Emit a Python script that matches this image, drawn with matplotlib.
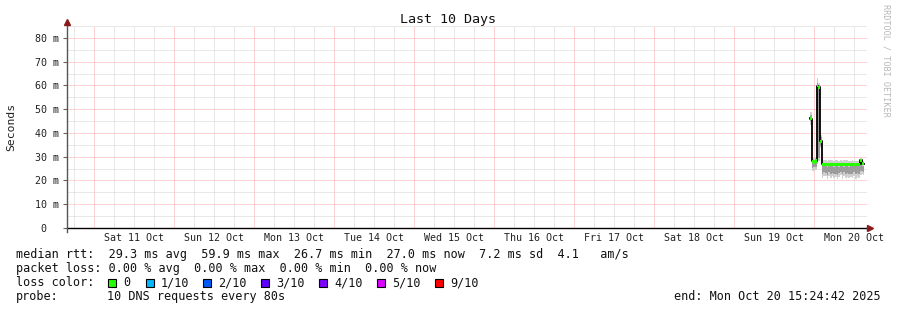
import datetime as dt
import numpy as np
import matplotlib
matplotlib.use("Agg")
import matplotlib.pyplot as plt
import matplotlib.dates as mdates
from matplotlib.patches import Rectangle
from matplotlib.ticker import MultipleLocator, FuncFormatter

# ---------------- data ----------------
win_start = dt.datetime(2025, 10, 10, 15, 49, 0)
win_days = 10
data_start = dt.datetime(2025, 10, 19, 22, 43, 0)
step_minutes = 18

median_ms = [46.4, 46.0, 32.0, 28.0, 27.8, 28.0, 28.2, 29.8, 59.9, 59.3, 36.8, 36.5, 27.4,
             26.8, 26.7, 26.8, 26.9, 26.8, 26.7, 26.8, 26.8, 26.9, 26.8,
             26.7, 26.8, 26.8, 26.9, 26.8, 26.8, 26.7, 26.8, 26.9, 26.8,
             26.8, 26.7, 26.8, 26.8, 26.9, 26.8, 26.7, 26.8, 26.8, 26.9,
             26.8, 26.8, 26.7, 26.8, 26.9, 26.8, 26.8, 26.8, 28.6, 28.4,
             27.0, 27.0]
smoke_lo = [43.0, 43.5, 28.5, 23.8, 24.2, 24.0, 24.5, 26.5, 27.0, 28.0, 32.5, 33.5, 23.0,
            21.2, 22.0, 20.8, 21.9, 21.4, 20.6, 22.1, 21.5, 21.0, 22.3,
            21.7, 20.9, 21.8, 21.3, 22.0, 20.7, 21.6, 21.2, 22.2, 21.5,
            20.8, 21.9, 21.4, 21.1, 22.1, 21.6, 20.9, 21.8, 21.3, 21.7,
            21.0, 22.0, 21.4, 20.8, 21.9, 21.5, 21.2, 22.1, 22.4, 22.0,
            22.6, 22.2]
smoke_hi = [50.0, 49.0, 34.0, 30.0, 29.5, 29.0, 29.5, 31.0, 63.0, 61.0, 40.0, 39.0, 29.0,
            28.3, 28.6, 28.1, 28.7, 28.4, 28.2, 28.8, 28.3, 28.5, 28.1,
            28.6, 28.4, 28.2, 28.7, 28.3, 28.6, 28.1, 28.5, 28.8, 28.2,
            28.4, 28.7, 28.1, 28.5, 28.3, 28.6, 28.2, 28.8, 28.4, 28.1,
            28.6, 28.3, 28.7, 28.2, 28.5, 28.4, 28.1, 28.6, 29.6, 29.4,
            28.4, 28.2]
inner_lo = [44.5, 45.0, 30.0, 25.2, 25.5, 25.4, 25.8, 28.0, 28.5, 29.5, 34.0, 34.5, 24.5,
            22.8, 23.4, 22.6, 23.3, 23.0, 22.5, 23.5, 23.1, 22.7, 23.6,
            23.2, 22.6, 23.3, 22.9, 23.5, 22.5, 23.2, 22.8, 23.6, 23.1,
            22.6, 23.4, 23.0, 22.8, 23.5, 23.2, 22.7, 23.3, 22.9, 23.2,
            22.7, 23.5, 23.0, 22.6, 23.4, 23.1, 22.9, 23.5, 23.8, 23.6,
            23.9, 23.7]
inner_hi = [48.0, 47.5, 33.0, 28.5, 28.4, 28.5, 28.7, 30.5, 61.0, 60.0, 39.0, 38.5, 27.5,
            25.9, 26.1, 25.8, 26.2, 26.0, 25.8, 26.1, 25.9, 26.2, 25.9,
            26.0, 25.8, 26.1, 26.2, 25.9, 26.0, 25.8, 26.1, 26.2, 25.9,
            26.0, 25.8, 26.1, 25.9, 26.2, 26.0, 25.8, 26.1, 25.9, 26.2,
            26.0, 25.9, 25.8, 26.1, 26.2, 25.9, 26.0, 26.1, 27.2, 27.0,
            26.3, 26.1]

day_labels = ['Sat 11 Oct', 'Sun 12 Oct', 'Mon 13 Oct', 'Tue 14 Oct', 'Wed 15 Oct',
              'Thu 16 Oct', 'Fri 17 Oct', 'Sat 18 Oct', 'Sun 19 Oct', 'Mon 20 Oct']
first_day = dt.datetime(2025, 10, 11)

title = "Last 10 Days"
y_label = "Seconds"
line_rtt = "median rtt:  29.3 ms avg  59.9 ms max  26.7 ms min  27.0 ms now  7.2 ms sd  4.1   am/s"
line_loss = "packet loss: 0.00 % avg  0.00 % max  0.00 % min  0.00 % now"
loss_title = "loss color:"
loss_labels = ['0', '1/10', '2/10', '3/10', '4/10', '5/10', '9/10']
loss_colors = ['#26ff00', '#00b8ff', '#0059ff', '#5e00ff', '#7e00ff', '#dd00ff', '#ff0000']
probe_name = "probe:"
probe_text = "10 DNS requests every 80s"
end_text = "end: Mon Oct 20 15:24:42 2025"
watermark = "RRDTOOL / TOBI OETIKER"

# ---------------- figure ----------------
W, H = 897, 310
MONO = 'DejaVu Sans Mono'
fig = plt.figure(figsize=(W / 100, H / 100), dpi=100, facecolor='white')
ax = fig.add_axes([67 / W, 82 / H, 800 / W, 201.9 / H], facecolor='white')

times = [data_start + dt.timedelta(minutes=step_minutes * i) for i in range(len(median_ms))]
tnum = mdates.date2num(times)
med = np.array(median_ms)

ax.fill_between(tnum, smoke_lo, smoke_hi, step='mid', color='#d0d0d0', lw=0, zorder=2)
ax.fill_between(tnum, inner_lo, inner_hi, step='mid', color='#9c9c9c', lw=0, zorder=3)
ax.plot(tnum, med, drawstyle='steps-mid', color='black', lw=1.3, zorder=4)
ax.fill_between(tnum, med - 0.65, med + 0.65, step='mid', color=loss_colors[0], lw=0, zorder=5)

x0 = mdates.date2num(win_start)
x1 = mdates.date2num(win_start + dt.timedelta(days=win_days))
ax.set_xlim(x0, x1)
ax.set_ylim(0, 85)

# grids
ax.xaxis.set_major_locator(mdates.HourLocator(byhour=[0]))
ax.xaxis.set_minor_locator(mdates.HourLocator(byhour=[6, 12, 18]))
ax.xaxis.set_major_formatter(plt.NullFormatter())
ax.yaxis.set_major_locator(MultipleLocator(10))
ax.yaxis.set_minor_locator(MultipleLocator(5))
ax.yaxis.set_major_formatter(FuncFormatter(lambda v, p: '0  ' if v == 0 else f'{int(v)} m'))
ax.grid(which='major', color='#ffa8a8', lw=0.72, linestyle=(0, (1, 1)), zorder=1)
ax.grid(which='minor', color='#d2d2d2', lw=0.72, linestyle=(0, (1, 1)), zorder=0.9)
ax.set_axisbelow(True)
ax.tick_params(axis='x', which='both', length=0)
ax.tick_params(axis='y', which='major', length=3, width=0.8, color='#666666', pad=3,
               labelsize=7.2, labelcolor='#222222')
ax.tick_params(axis='y', which='minor', length=0)
for lab in ax.get_yticklabels():
    lab.set_family(MONO)

for s in ['top', 'right', 'left', 'bottom']:
    ax.spines[s].set_visible(False)

# axis lines and arrows
ax.plot([0, 1.004], [0, 0], color='black', lw=1.0, transform=ax.transAxes, clip_on=False, zorder=6)
ax.plot([0, 0], [-0.02, 1.02], color='#555555', lw=1.0, transform=ax.transAxes, clip_on=False, zorder=6)
ax.plot([0], [1.02], marker='^', color='#8b1a1a', markersize=4, transform=ax.transAxes, clip_on=False, zorder=7)
ax.plot([1.004], [0], marker='>', color='#8b1a1a', markersize=4, transform=ax.transAxes, clip_on=False, zorder=7)

# day labels at noon
trans = matplotlib.transforms.blended_transform_factory(ax.transData, fig.transFigure)
for i, lab in enumerate(day_labels):
    noon = mdates.date2num(first_day + dt.timedelta(days=i, hours=12))
    ax.text(noon, 1 - 241 / H, lab, transform=trans, ha='center', va='baseline',
            family=MONO, fontsize=7.2, color='#222222', clip_on=False)

# titles
fig.text(448 / W, 1 - 23 / H, title, ha='center', va='baseline', family=MONO, fontsize=9.6, color='#111111')
fig.text(11 / W, 1 - 127 / H, y_label, ha='center', va='center', rotation=90, family=MONO,
         fontsize=8.2, color='#222222')
fig.text(886 / W, 1 - 4 / H, watermark, ha='center', va='top', rotation=270, family=MONO,
         fontsize=6.1, color='#b8b8b8')

# legend lines
fs = 8.5
fig.text(16 / W, 1 - 258.3 / H, line_rtt, ha='left', va='baseline', family=MONO, fontsize=fs, color='#111111')
fig.text(16 / W, 1 - 272.3 / H, line_loss, ha='left', va='baseline', family=MONO, fontsize=fs, color='#111111')
fig.text(16 / W, 1 - 286.3 / H, loss_title, ha='left', va='baseline', family=MONO, fontsize=fs, color='#111111')
box_x = [108, 146, 203, 261, 319, 377, 435]
for bx, lab, col in zip(box_x, loss_labels, loss_colors):
    fig.add_artist(Rectangle((bx / W, 1 - 286.5 / H), 8 / W, 8 / H, transform=fig.transFigure,
                             facecolor=col, edgecolor='black', lw=0.8))
    fig.text((bx + 15) / W, 1 - 286.3 / H, lab, ha='left', va='baseline', family=MONO,
             fontsize=fs, color='#111111')
fig.text(16 / W, 1 - 300.3 / H, probe_name, ha='left', va='baseline', family=MONO, fontsize=fs, color='#111111')
fig.text(107 / W, 1 - 300.3 / H, probe_text, ha='left', va='baseline', family=MONO, fontsize=fs, color='#111111')
fig.text(881 / W, 1 - 300.3 / H, end_text, ha='right', va='baseline', family=MONO, fontsize=fs, color='#111111')

fig.savefig('out.png', dpi=100, facecolor='white')
